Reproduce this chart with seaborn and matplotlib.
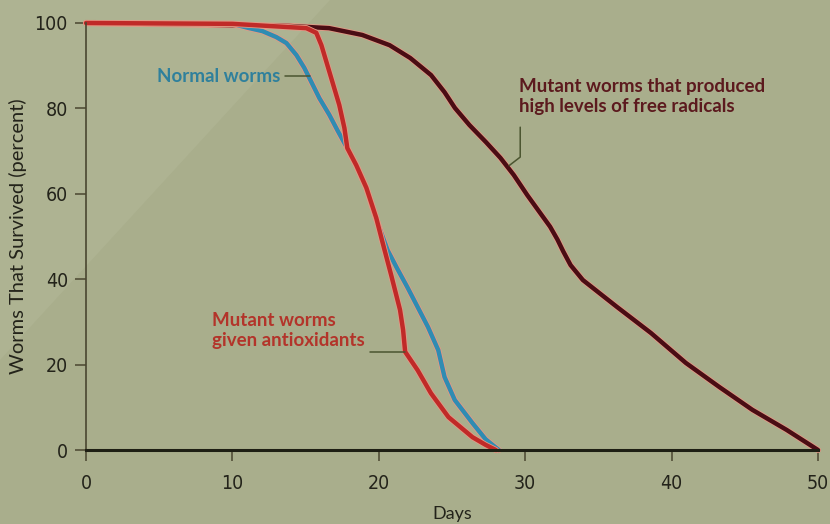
import pandas as pd
import matplotlib.pyplot as plt
import matplotlib.patheffects as pe
from matplotlib import font_manager
from matplotlib.patches import Polygon
import seaborn as sns

# survival curves (days, percent alive)
normal_days = [0, 10, 11.16, 12.05, 13.0, 13.69, 14.37, 14.91, 15.39, 15.94, 16.62, 17.17, 17.65, 17.85,
               18.46, 19.15, 19.8, 20.6, 21.24, 21.94, 22.65, 23.36, 24.06, 24.49, 25.19, 26.4, 27.3, 28.2]
normal_pct = [100, 99.8, 98.8, 98.1, 96.7, 95.3, 92.5, 89.5, 86.2, 82.4, 78.5, 74.9, 71.9, 70.7,
              66.7, 61.4, 54.3, 46.8, 42.6, 38.2, 33.5, 28.8, 23.4, 17.1, 11.7, 6.3, 2.5, 0]

antiox_days = [0, 10, 15.05, 15.73, 16.08, 16.42, 16.83, 17.3, 17.65, 17.85, 18.46, 19.15, 19.83, 20.25,
               20.88, 21.45, 21.66, 21.8, 22.65, 23.56, 24.76, 26.4, 27.3, 28.0]
antiox_pct = [100, 99.8, 98.8, 97.7, 94.8, 90.9, 86.2, 80.8, 75.4, 70.7, 66.7, 61.4, 54.3, 48.7,
              40.5, 32.8, 28.1, 23.0, 18.7, 13.3, 7.7, 3.0, 1.2, 0]

radical_days = [0, 10, 13.9, 16.6, 18.87, 20.74, 22.15, 23.57, 24.49, 25.2, 26.19, 27.32, 28.31, 29.22,
                30.14, 31.13, 31.7, 32.2, 32.6, 33.1, 33.94, 36.27, 38.59, 40.97, 43.24, 45.52, 47.86, 50]
radical_pct = [100, 99.5, 99.3, 98.8, 97.2, 94.8, 91.8, 87.8, 83.8, 80.1, 76.1, 72.1, 68.4, 64.4,
               59.7, 55.0, 52.3, 49.3, 46.5, 43.3, 39.8, 33.5, 27.4, 20.4, 14.8, 9.4, 4.7, 0]

groups = ["Normal worms", "Mutant worms given antioxidants", "Mutant worms that produced high levels of free radicals"]
colors = ["#2f8cb2", "#c02a28", "#4a0d14"]

df = pd.concat([
    pd.DataFrame({"day": normal_days, "pct": normal_pct, "group": groups[0]}),
    pd.DataFrame({"day": antiox_days, "pct": antiox_pct, "group": groups[1]}),
    pd.DataFrame({"day": radical_days, "pct": radical_pct, "group": groups[2]}),
])

bg = "#a9ae8c"
sns.set_style("ticks")
plt.rcParams["font.family"] = ["Lato", "DejaVu Sans"]

names = {f.name for f in font_manager.fontManager.ttflist}
if "Liberation Sans Narrow" in names:
    tick_font = dict(fontfamily="Liberation Sans Narrow")
elif "DejaVu Sans Condensed" in names:
    tick_font = dict(fontfamily="DejaVu Sans Condensed")
else:
    tick_font = dict(fontfamily="DejaVu Sans", fontstretch="condensed")

fig = plt.figure(figsize=(8.3, 5.24), dpi=100, facecolor=bg)
# faint glare from the photo in the upper left
fig.patches.append(Polygon([[0, 1], [330 / 830, 1], [0, 1 - 360 / 524]], closed=True,
                           transform=fig.transFigure, facecolor="#aeb392", edgecolor="none", zorder=-1))

ax = fig.add_axes([86 / 830, 1 - 450 / 524, 732 / 830, 427 / 524])
ax.set_facecolor("none")

sns.lineplot(data=df, x="day", y="pct", hue="group", hue_order=[groups[2], groups[0], groups[1]],
             palette=dict(zip(groups, colors)), estimator=None, sort=False,
             linewidth=3.2, legend=False, ax=ax)
for line in ax.lines:
    line.set_clip_on(False)
    line.set_path_effects([pe.Stroke(linewidth=4.4, foreground="#e39a86"), pe.Normal()])
    line.set_solid_capstyle("round")
    line.set_solid_joinstyle("round")

ax.set_xlim(0, 50)
ax.set_ylim(0, 100)
ax.set_xticks([0, 10, 20, 30, 40, 50], labels=["0", "10", "20", "30", "40", "50"], **tick_font)
ax.set_yticks([0, 20, 40, 60, 80, 100], labels=["0", "20", "40", "60", "80", "100"], **tick_font)

for s in ["top", "right"]:
    ax.spines[s].set_visible(False)
ax.spines["left"].set_color("#4a4630")
ax.spines["left"].set_linewidth(1.2)
ax.spines["bottom"].set_color("#1e1f14")
ax.spines["bottom"].set_linewidth(2.2)

ax.tick_params(axis="y", length=8, width=1.1, color="#4a4630", pad=5, labelsize=14, labelcolor="#23231a")
ax.tick_params(axis="x", length=8, width=1.1, color="#4a4630", pad=9, labelsize=14, labelcolor="#23231a")

ax.set_xlabel("Days", fontsize=13, color="#23231a")
ax.set_ylabel("Worms That Survived (percent)", fontsize=14.5, color="#23231a")
ax.xaxis.set_label_coords(0.5, -0.131)
ax.yaxis.set_label_coords(-0.081, 0.5)

lead = "#4b5530"
# Normal worms
ax.text(13.25, 87.5, "Normal worms", color="#2f809c", fontsize=13.5, fontweight="bold", ha="right", va="center")
ax.plot([13.6, 15.3], [87.5, 87.5], color=lead, lw=1.1)

# antioxidants
ax.text(8.6, 28.0, "Mutant worms\ngiven antioxidants", color="#b3342a", fontsize=13.5, fontweight="bold",
        ha="left", va="center", linespacing=1.2)
ax.plot([19.4, 21.8], [23.0, 23.0], color=lead, lw=1.1)

# free radicals
ax.text(29.58, 82.7, "Mutant worms that produced\nhigh levels of free radicals", color="#5c1a1e", fontsize=13.5,
        fontweight="bold", ha="left", va="center", linespacing=1.2)
ax.plot([29.66, 29.66, 28.9], [75.6, 68.6, 66.6], color=lead, lw=1.1)

plt.savefig("out.png", dpi=100, facecolor=bg)
